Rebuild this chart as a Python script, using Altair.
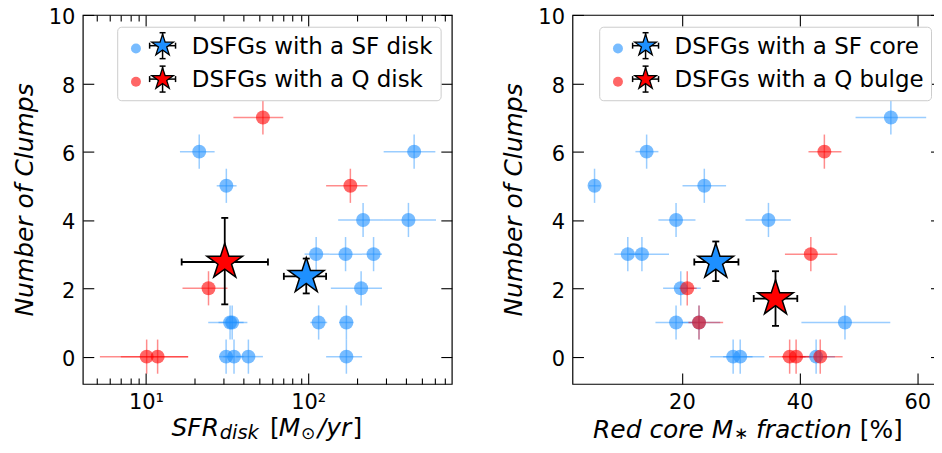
import altair as alt
import pandas as pd

FONT = "DejaVu Sans"
BLUE = "#1E90FF"
RED = "#FF0000"
STAR = ("M0,-1L0.2245,-0.309L0.9511,-0.309L0.3633,0.118L0.5878,0.809L0,0.382"
        "L-0.5878,0.809L-0.3633,0.118L-0.9511,-0.309L-0.2245,-0.309Z")
W = 370
H = 370
YERR = 0.5

# ---------------- left panel: SFR_disk ----------------
sfdisk_x = [21.3, 450, 31.3, 218, 415, 112, 170, 253, 212, 33.0, 34.0, 116, 172, 31.2, 34.9, 42.8, 172]
sfdisk_lo = [16.2, 292, 27.3, 153, 290, 95, 135, 215, 138, 24.2, 28.0, 103, 155, 28.2, 30.0, 36.0, 129]
sfdisk_hi = [26.5, 608, 36.2, 290, 614, 135, 215, 285, 285, 42.2, 40.0, 131, 190, 35.0, 40.0, 52.6, 215]
sfdisk_n = [6, 6, 5, 4, 4, 3, 3, 3, 2, 1, 1, 1, 1, 0, 0, 0, 0]

qdisk_x = [52.6, 182, 24.3, 10.1, 11.8]
qdisk_lo = [34.6, 129, 16.8, 5.2, 7.0]
qdisk_hi = [70.2, 232, 31.8, 18.2, 18.2]
qdisk_n = [7, 5, 2, 0, 0]

disk_mean_label = ["SF", "Q"]
disk_mean_x = [97.3, 30.6]
disk_mean_lo = [70.8, 16.6]
disk_mean_hi = [129, 56.5]
disk_mean_n = [2.35, 2.77]
disk_mean_nlo = [1.85, 1.53]
disk_mean_nhi = [2.87, 4.06]

# ---------------- right panel: red core fraction ----------------
sfcore_x = [55.5, 14.0, 5.15, 23.8, 19.0, 34.7, 10.8, 13.2, 19.8, 19.0, 22.9, 47.7, 28.7, 29.9, 42.8]
sfcore_lo = [49.5, 12.1, 4.2, 20.1, 16.0, 30.8, 8.5, 11.0, 16.8, 15.5, 20.0, 40.3, 24.8, 27.0, 40.0]
sfcore_hi = [61.5, 16.0, 6.1, 27.5, 22.3, 38.5, 13.0, 17.8, 23.2, 22.5, 26.5, 55.4, 32.0, 34.0, 46.0]
sfcore_n = [7, 6, 5, 5, 4, 4, 3, 3, 2, 1, 1, 1, 0, 0, 0]

qbulge_x = [44.2, 41.9, 20.9, 22.9, 38.3, 39.4, 43.5]
qbulge_lo = [41.5, 37.5, 19.5, 21.1, 34.8, 37.0, 40.0]
qbulge_hi = [47.1, 46.4, 22.5, 27.0, 41.0, 42.0, 47.3]
qbulge_n = [6, 3, 2, 1, 0, 0, 0]

core_mean_label = ["SF", "Q"]
core_mean_x = [25.75, 35.9]
core_mean_lo = [22.1, 32.2]
core_mean_hi = [29.6, 39.6]
core_mean_n = [2.77, 1.70]
core_mean_nlo = [2.21, 0.90]
core_mean_nhi = [3.37, 2.50]

y_ticks = [0, 2, 4, 6, 8, 10]
log_major = [10, 100]
log_major_text = ["10¹", "10²"]
log_minor = [5, 6, 7, 8, 9, 20, 30, 40, 50, 60, 70, 80, 90, 200, 300, 400, 500, 600, 700]
lin_major = [20, 40, 60]

legend_left = ["DSFGs with a SF disk", "DSFGs with a Q disk"]
legend_right = ["DSFGs with a SF core", "DSFGs with a Q bulge"]


def pts_df(x, lo, hi, n):
    return pd.DataFrame({"x": x, "lo": lo, "hi": hi, "n": n,
                         "nlo": [v - YERR for v in n], "nhi": [v + YERR for v in n]})


def mean_df(label, x, lo, hi, n, nlo, nhi):
    return pd.DataFrame({"label": label, "x": x, "lo": lo, "hi": hi, "n": n, "nlo": nlo, "nhi": nhi})


def tick_axis(orient, values, size, **kw):
    base = dict(orient=orient, values=values, tickSize=size, offset=-size, domain=False,
                grid=False, ticks=True, tickColor="black", tickWidth=1.1, title=None,
                labels=False)
    base.update(kw)
    return alt.Axis(**base)


LABEL_KW = dict(labels=True, labelPadding=8, labelFontSize=21, labelFont=FONT,
                labelColor="black", labelFlush=False, labelOverlap=False)

one = pd.DataFrame({"a": [0]})


def txt(s, x, y, size, style="normal", align="left"):
    return alt.Chart(one).mark_text(align=align, baseline="alphabetic", font=FONT, fontSize=size,
                                    fontStyle=style, color="black").encode(
        x=alt.value(x), y=alt.value(y), text=alt.value(s))


def vrule(x, y1, y2, w=1.5, color="black"):
    return alt.Chart(one).mark_rule(color=color, strokeWidth=w).encode(
        x=alt.value(x), y=alt.value(y1), y2=alt.value(y2))


def hrule(x1, x2, y, w=1.5, color="black"):
    return alt.Chart(one).mark_rule(color=color, strokeWidth=w).encode(
        x=alt.value(x1), x2=alt.value(x2), y=alt.value(y))


def legend_layers(labels, box_x, circ_x, star_x, text_x):
    layers = [alt.Chart(one).mark_rect(fill="white", fillOpacity=0.8, stroke="#cccccc",
                                       strokeWidth=1, cornerRadius=4).encode(
        x=alt.value(box_x[0]), x2=alt.value(box_x[1]), y=alt.value(12.3), y2=alt.value(86))]
    rows_circ = [33.6, 67.0]
    rows_star = [30.8, 64.3]
    rows_text = [39.3, 72.6]
    for lab, col, cy, sy, ty in zip(labels, [BLUE, RED], rows_circ, rows_star, rows_text):
        layers.append(alt.Chart(one).mark_circle(size=100, color=col, opacity=0.6).encode(
            x=alt.value(circ_x), y=alt.value(cy)))
        layers += [vrule(star_x, sy - 13, sy + 13), hrule(star_x - 13, star_x + 13, sy),
                   hrule(star_x - 3, star_x + 3, sy - 13), hrule(star_x - 3, star_x + 3, sy + 13),
                   vrule(star_x - 13, sy - 3, sy + 3), vrule(star_x + 13, sy - 3, sy + 3)]
        layers.append(alt.Chart(one).mark_point(shape=STAR, size=520, filled=True, fill=col,
                                                stroke="black", strokeWidth=1.3, opacity=1).encode(
            x=alt.value(star_x), y=alt.value(sy)))
        layers.append(txt(lab, text_x, ty, 23))
    return layers


def panel(blue, red, means, xs, ax_bottom, ax_bottom_minor, ax_top, ax_top_minor, legend, titles):
    ys = alt.Scale(domain=[-0.8, 10], nice=False, zero=False)
    ax_left = tick_axis("left", y_ticks, 11, title="Number of Clumps", titleFontSize=25,
                        titleFontStyle="italic", titleFontWeight="normal", titlePadding=11,
                        titleFont=FONT, titleColor="black", labelOffset=3, **LABEL_KW)
    ax_right = tick_axis("right", y_ticks, 11)
    b, r, m = alt.Chart(blue), alt.Chart(red), alt.Chart(means)
    err = dict(strokeWidth=1.5, opacity=0.45)
    xcaps = pd.concat([means[["lo", "n"]].rename(columns={"lo": "x"}),
                       means[["hi", "n"]].rename(columns={"hi": "x"})])
    ycaps = pd.concat([means[["x", "nlo"]].rename(columns={"nlo": "n"}),
                       means[["x", "nhi"]].rename(columns={"nhi": "n"})])
    layers = [
        b.mark_rule(color=BLUE, **err).encode(
            x=alt.X("lo:Q", scale=xs, axis=ax_bottom), x2="hi:Q",
            y=alt.Y("n:Q", scale=ys, axis=ax_left)),
        b.mark_rule(color=BLUE, **err).encode(
            x=alt.X("x:Q", scale=xs, axis=ax_top),
            y=alt.Y("nlo:Q", scale=ys, axis=ax_right), y2="nhi:Q"),
        r.mark_rule(color=RED, **err).encode(
            x=alt.X("lo:Q", scale=xs, axis=ax_bottom_minor), x2="hi:Q",
            y=alt.Y("n:Q", scale=ys, axis=None)),
        r.mark_rule(color=RED, **err).encode(
            x=alt.X("x:Q", scale=xs, axis=ax_top_minor),
            y=alt.Y("nlo:Q", scale=ys, axis=None), y2="nhi:Q"),
        b.mark_circle(size=196, color=BLUE, opacity=0.6).encode(
            x=alt.X("x:Q", scale=xs, axis=None), y=alt.Y("n:Q", scale=ys, axis=None)),
        r.mark_circle(size=196, color=RED, opacity=0.6).encode(
            x=alt.X("x:Q", scale=xs, axis=None), y=alt.Y("n:Q", scale=ys, axis=None)),
        m.mark_rule(color="black", strokeWidth=1.8).encode(
            x=alt.X("lo:Q", scale=xs, axis=None), x2="hi:Q",
            y=alt.Y("n:Q", scale=ys, axis=None)),
        m.mark_rule(color="black", strokeWidth=1.8).encode(
            x=alt.X("x:Q", scale=xs, axis=None),
            y=alt.Y("nlo:Q", scale=ys, axis=None), y2="nhi:Q"),
        alt.Chart(xcaps).mark_tick(orient="vertical", size=7, thickness=1.8, color="black",
                                   opacity=1).encode(
            x=alt.X("x:Q", scale=xs, axis=None), y=alt.Y("n:Q", scale=ys, axis=None)),
        alt.Chart(ycaps).mark_tick(orient="horizontal", size=7, thickness=1.8, color="black",
                                   opacity=1).encode(
            x=alt.X("x:Q", scale=xs, axis=None), y=alt.Y("n:Q", scale=ys, axis=None)),
        m.mark_point(shape=STAR, size=1414, filled=True, stroke="black", strokeWidth=1.5,
                     opacity=1).encode(
            x=alt.X("x:Q", scale=xs, axis=None), y=alt.Y("n:Q", scale=ys, axis=None),
            fill=alt.Fill("label:N", scale=alt.Scale(domain=["SF", "Q"], range=[BLUE, RED]),
                          legend=None)),
    ]
    layers += legend
    layers += [txt(*t) for t in titles]
    return alt.layer(*layers).properties(width=W, height=H).resolve_axis(
        x="independent", y="independent")


log_expr = " : ".join(f"datum.value == {v} ? '{t}'" for v, t in zip(log_major, log_major_text)) + " : ''"

left = panel(
    pts_df(sfdisk_x, sfdisk_lo, sfdisk_hi, sfdisk_n),
    pts_df(qdisk_x, qdisk_lo, qdisk_hi, qdisk_n),
    mean_df(disk_mean_label, disk_mean_x, disk_mean_lo, disk_mean_hi, disk_mean_n,
            disk_mean_nlo, disk_mean_nhi),
    alt.Scale(type="log", domain=[4.08, 768], nice=False),
    tick_axis("bottom", log_major, 11, labelExpr=log_expr, **LABEL_KW),
    tick_axis("bottom", log_minor, 6),
    tick_axis("top", log_major, 11),
    tick_axis("top", log_minor, 6),
    legend_layers(legend_left, (35, 359.3), 53.3, 80, 109.3),
    [("SFR", 136.6, 422.6, 25, "italic", "right"),
     ("disk", 137.3, 424.8, 19.5, "italic", "left"),
     ("[", 187.6, 422.6, 25, "normal", "left"),
     ("M", 196.6, 422.6, 25, "italic", "left"),
     ("⊙", 218.8, 425.3, 17, "normal", "left"),
     ("/yr", 235.6, 422.6, 25, "italic", "left"),
     ("]", 270.5, 422.6, 25, "normal", "left")],
)

right = panel(
    pts_df(sfcore_x, sfcore_lo, sfcore_hi, sfcore_n),
    pts_df(qbulge_x, qbulge_lo, qbulge_hi, qbulge_n),
    mean_df(core_mean_label, core_mean_x, core_mean_lo, core_mean_hi, core_mean_n,
            core_mean_nlo, core_mean_nhi),
    alt.Scale(type="linear", domain=[1.4, 64.1], nice=False, zero=False),
    tick_axis("bottom", lin_major, 11, **LABEL_KW),
    None,
    tick_axis("top", lin_major, 11),
    None,
    legend_layers(legend_right, (27.3, 360), 45.6, 73.3, 102.3),
    [("Red core M", 20.6, 424.3, 25, "italic", "left"),
     ("∗", 162, 425.3, 17, "normal", "left"),
     ("fraction", 184, 424.3, 25, "italic", "left"),
     ("[%]", 288, 424.3, 25, "normal", "left")],
)

# The page must not overflow the 942x453 window: clip the right/bottom edges with negative padding.
chart = alt.hconcat(left, right, spacing=121, bounds="flush").properties(
    padding={"left": 3, "top": -2.6, "right": -9.5, "bottom": -1}
).configure_view(stroke="black", strokeWidth=1.2).configure_axis(
    labelFont=FONT, titleFont=FONT, labelColor="black", titleColor="black")

chart.save("out.html", embed_options={"renderer": "svg", "actions": False})
